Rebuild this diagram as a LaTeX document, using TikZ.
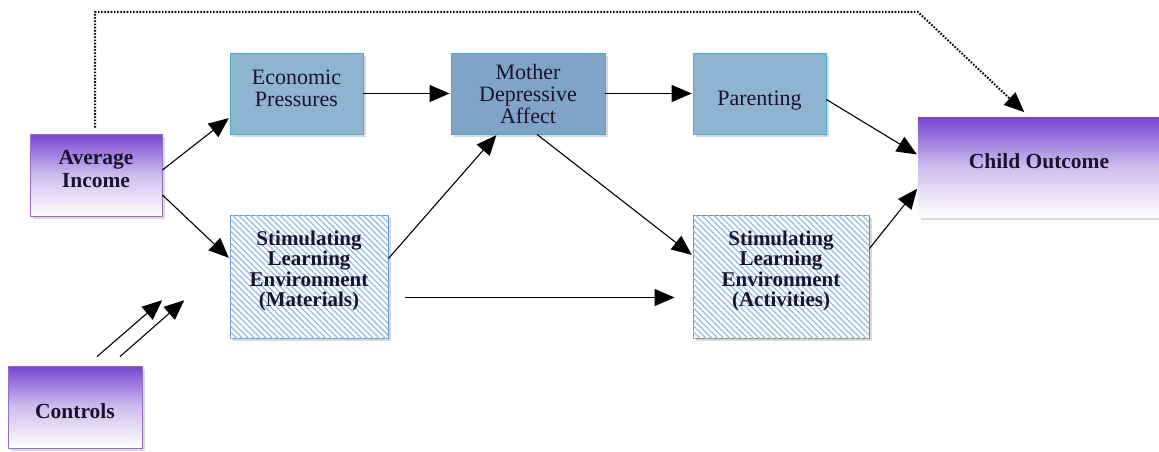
\documentclass[tikz,border=0pt]{standalone}
\usepackage{fontspec}
\setmainfont{Liberation Serif}
\usetikzlibrary{arrows.meta,calc,shadows,patterns.meta}
\definecolor{boxblue}{RGB}{143,180,207}
\definecolor{boxbluedark}{RGB}{128,164,200}
\definecolor{boxedge}{RGB}{70,175,205}
\definecolor{purp}{RGB}{118,68,208}
\definecolor{purpedge}{RGB}{150,110,195}
\definecolor{hatchblue}{RGB}{150,190,228}
\definecolor{matedge}{RGB}{100,150,215}
\definecolor{actedge}{RGB}{140,140,80}
\definecolor{textdark}{RGB}{25,20,45}
\tikzset{
  base/.style={rectangle, align=center, inner sep=2pt, text=textdark,
    font=\fontsize{21.5}{23}\selectfont\bfseries,
    drop shadow={shadow xshift=3pt, shadow yshift=-3pt, opacity=0.3}},
  bluebox/.style={base, draw=boxedge, fill=boxblue, line width=0.8pt,
    font=\fontsize{22}{22}\selectfont},
  purplebox/.style={base, top color=purp, bottom color=white, middle color=purp!35},
  hatchbox/.style={base, fill=white, line width=0.9pt,
    font=\fontsize{21}{20.5}\selectfont\bfseries,
    postaction={pattern={Lines[angle=-45,distance=4.2pt,line width=1.3pt]}, pattern color=hatchblue}},
  tip/.style={-{Triangle[length=20pt,width=17pt]}},
  arr/.style={tip, line width=1.1pt, shorten >=1pt},
  dotline/.style={line width=2pt, dash pattern=on 1.6pt off 1.6pt}
}
\begin{document}
\begin{tikzpicture}[x=1pt,y=-1pt]
\useasboundingbox (0,0) rectangle (1159,452);

% boxes
\node[purplebox, draw=purpedge, line width=0.9pt, minimum width=132pt, minimum height=82pt, text depth=12pt] (avg) at (96,175) {Average\\Income};
\node[bluebox, minimum width=133pt, minimum height=81pt, text depth=11pt] (econ) at (296.5,93.5) {Economic\\Pressures};
\node[bluebox, fill=boxbluedark, minimum width=154pt, minimum height=81pt] (mother) at (528,93.5) {Mother\\Depressive\\Affect};
\node[bluebox, minimum width=133pt, minimum height=81pt, text height=29pt] (parent) at (759.5,93.5) {Parenting};
\node[purplebox, minimum width=242pt, minimum height=100pt, text depth=12pt] (child) at (1039,167) {Child Outcome};
\node[hatchbox, draw=matedge, minimum width=158pt, minimum height=123pt, text depth=16pt] (mat) at (309,276.5) {Stimulating\\Learning\\Environment\\(Materials)};
\node[hatchbox, draw=actedge, minimum width=176pt, minimum height=123pt, text depth=16pt] (act) at (781,276.5) {Stimulating\\Learning\\Environment\\(Activities)};
\node[purplebox, draw=purpedge, line width=0.9pt, minimum width=134pt, minimum height=82pt, text height=24pt] (ctrl) at (75,407) {Controls};

% free ends of the control arrows
\coordinate (c1s) at ($(ctrl.north)+(22,-9)$);
\coordinate (c1e) at ($(ctrl.north)+(88,-66)$);
\coordinate (c2s) at ($(ctrl.north)+(45,-9)$);
\coordinate (c2e) at ($(ctrl.north)+(110,-66)$);

% connectors
\draw[dotline] ($(avg.north)+(-1,-6)$) -- (95,12) -- (918,12) -- ($(child.north)+(-27,-16)$);
\draw[arr] ($(child.north)+(-27,-16)$) -- ($(child.north)+(-14,-4)$);
\draw[arr] ($(avg.east)+(0,-5)$) -- ($(econ.west)+(0,24)$);
\draw[arr] ($(avg.east)+(0,20)$) -- ($(mat.west)+(0,-18)$);
\draw[arr] (econ.east) -- (mother.west);
\draw[arr] (mother.east) -- (parent.west);
\draw[arr] ($(parent.east)+(0,6)$) -- ($(child.west)+(0,-12)$);
\draw[arr] ($(mat.east)+(0,-18)$) -- ($(mother.south)+(-31,0)$);
\draw[arr] ($(mother.south)+(9,0)$) -- ($(act.west)+(0,-21)$);
\draw[arr] ($(mat.east)+(17,21)$) -- ($(act.west)+(-17,21)$);
\draw[arr] ($(act.east)+(0,-28)$) -- ($(child.west)+(0,21)$);
\draw[arr] (c1s) -- (c1e);
\draw[arr] (c2s) -- (c2e);
\end{tikzpicture}
\end{document}
